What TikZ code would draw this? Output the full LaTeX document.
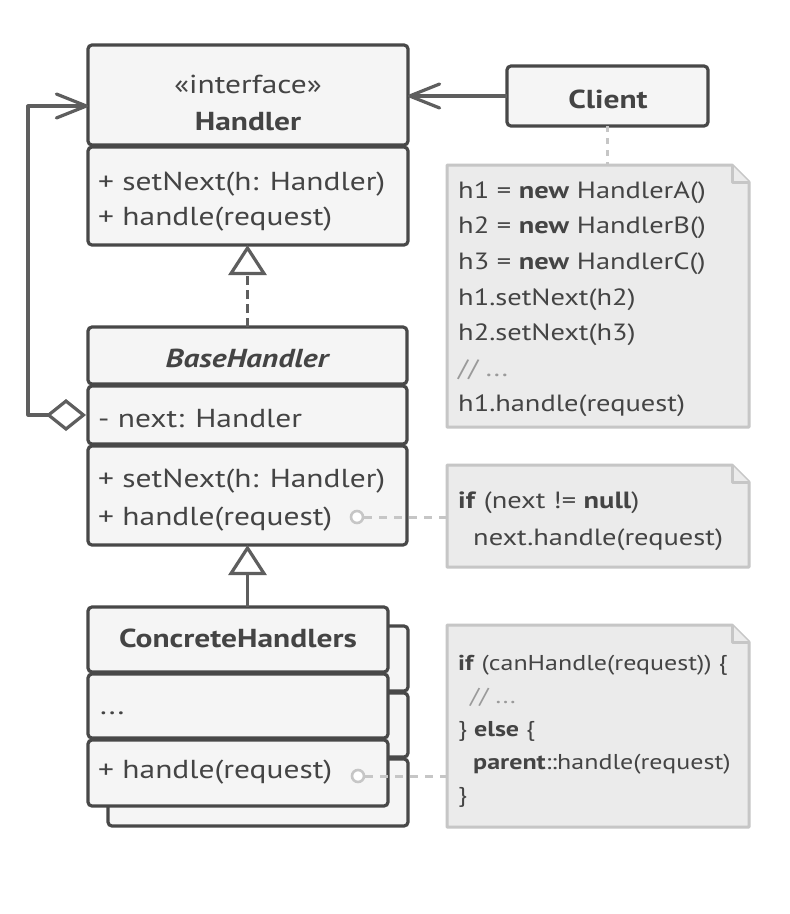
\documentclass[tikz,border=0pt]{standalone}
\usepackage{fontspec}
\setmainfont{PT Sans}[FakeStretch=1.21]
\usetikzlibrary{arrows.meta,calc}

\definecolor{ink}{HTML}{444444}
\definecolor{edge}{HTML}{484848}
\definecolor{conn}{HTML}{5E5E5E}
\definecolor{boxfill}{HTML}{F5F5F5}
\definecolor{notefill}{HTML}{EBEBEB}
\definecolor{noteedge}{HTML}{C6C6C6}
\definecolor{faint}{HTML}{9A9A9A}

\tikzset{
  comp/.style={draw=edge, fill=boxfill, line width=3.2pt, rounded corners=4pt,
    inner sep=0pt, outer sep=0pt, anchor=north west},
  member/.style={anchor=base west, inner sep=0pt, text=ink,
    font=\fontsize{26}{30}\selectfont},
  stereo/.style={anchor=base, inner sep=0pt, text=ink,
    font=\fontsize{26}{30}\selectfont},
  title/.style={anchor=base, inner sep=0pt, text=ink,
    font=\fontsize{26}{30}\selectfont\bfseries},
  code/.style={anchor=base west, inner sep=0pt, text=ink,
    font=\fontsize{23.5}{28}\selectfont},
  smallcode/.style={code, font=\fontsize{21.5}{26}\selectfont},
  notebox/.style={inner sep=0pt, outer sep=0pt, anchor=north west},
  notedraw/.style={draw=noteedge, fill=notefill, line width=3pt, line join=round},
  link/.style={draw=conn, line width=3.2pt},
  notelink/.style={draw=noteedge, line width=3pt, dash pattern=on 8pt off 7pt},
  pin/.style={circle, draw=noteedge, fill=white, line width=2.6pt,
    minimum size=12pt, inner sep=0pt},
  openhead/.tip={Straight Barb[length=30pt, width=24pt, line join=round, line cap=round]},
  hollowtri/.tip={Triangle[open, length=30pt, width=38pt]},
}

\begin{document}
\begin{tikzpicture}[x=1pt, y=-1pt]
\useasboundingbox[fill=white] (0,0) rectangle (790,914);

% ---------- notes (drawn first so connectors sit on top) ----------
\node[notebox, minimum width=302pt, minimum height=262pt] (n1) at (447,165) {};
\node[notebox, minimum width=302pt, minimum height=102pt] (n2) at (447,465) {};
\node[notebox, minimum width=302pt, minimum height=202pt] (n3) at (447,625) {};
\foreach \n in {n1,n2,n3}{
  \draw[notedraw] (\n.north west) -- ($(\n.north east)+(-17,0)$)
    -- ($(\n.north east)+(0,17)$) -- (\n.south east) -- (\n.south west) -- cycle;
  \draw[notedraw] ($(\n.north east)+(-17,0)$) -- ($(\n.north east)+(-17,17)$)
    -- ($(\n.north east)+(0,17)$);
}

% ---------- Handler interface ----------
\node[comp, minimum width=320pt, minimum height=100pt] (hHead) at (88,45) {};
\node[comp, minimum width=320pt, minimum height=98pt] (hOps) at (88,147) {};
\node[stereo] (hStereo) at (248,93) {«interface»};
\node[title] (hName) at (248,130) {Handler};
\node[member] (hOp1) at (98,190) {+ setNext(h: Handler)};
\node[member] (hOp2) at (98,225) {+ handle(request)};

% ---------- Client ----------
\node[comp, minimum width=201pt, minimum height=60pt] (client) at (507,66) {};
\node[title] (clientName) at (608,108) {Client};

% ---------- BaseHandler ----------
\node[comp, minimum width=319pt, minimum height=57pt] (bHead) at (88,327) {};
\node[comp, minimum width=319pt, minimum height=58pt] (bAttr) at (88,386) {};
\node[comp, minimum width=319pt, minimum height=99pt] (bOps) at (88,446) {};
\node[title, font=\fontsize{26}{30}\selectfont\bfseries\itshape] (bName) at (247,367) {BaseHandler};
\node[member] (bField) at (98,427) {- next: Handler};
\node[member] (bOp1) at (98,487) {+ setNext(h: Handler)};
\node[member] (bOp2) at (98,525) {+ handle(request)};

% ---------- ConcreteHandlers (stacked copies) ----------
\node[comp, minimum width=300pt, minimum height=65pt] (cBack1) at (108,626) {};
\node[comp, minimum width=300pt, minimum height=64pt] (cBack2) at (108,693) {};
\node[comp, minimum width=300pt, minimum height=67pt] (cBack3) at (108,759) {};
\node[comp, minimum width=300pt, minimum height=65pt] (cHead) at (88,607) {};
\node[comp, minimum width=300pt, minimum height=64pt] (cAttr) at (88,674) {};
\node[comp, minimum width=300pt, minimum height=66pt] (cOps) at (88,740) {};
\node[title] (cName) at (238,647) {ConcreteHandlers};
\node[member] (cField) at (100,714) {...};
\node[member] (cOp1) at (98,778) {+ handle(request)};

% ---------- relations ----------
\draw[link, -{openhead}] (client.west) -- (client.west -| hHead.east);
\draw[link, dash pattern=on 9pt off 5pt, -{hollowtri}] (bHead.north) -- (bHead.north |- hOps.south);
\draw[link, -{hollowtri}] (bOps.south |- cHead.north) -- (bOps.south);
\coordinate (loopTop) at ($(hHead.north west)+(-60,61)$);
\draw[link, line join=round, {Diamond[open, length=40pt, width=32pt]}-{openhead}]
  ($(bAttr.west)+(-2,0)$) -| (loopTop) -- (loopTop -| hHead.west);

% ---------- note links ----------
\draw[notelink, dash pattern=on 6pt off 6pt] (client.south) -- (client.south |- n1.north);
\node[pin] (p1) at (357,517) {};
\draw[notelink] (p1.east) -- (p1.east -| n2.west);
\node[pin] (p2) at (358,776) {};
\draw[notelink] (p2.east) -- (p2.east -| n3.west);

% ---------- note texts ----------
\node[code] (t11) at (458,198) {h1 = \textbf{new} HandlerA()};
\node[code] (t12) at (458,233.5) {h2 = \textbf{new} HandlerB()};
\node[code] (t13) at (458,269) {h3 = \textbf{new} HandlerC()};
\node[code] (t14) at (458,305) {h1.setNext(h2)};
\node[code] (t15) at (458,340) {h2.setNext(h3)};
\node[code, text=faint] (t16) at (458,376) {// ...};
\node[code] (t17) at (458,411.5) {h1.handle(request)};

\node[code] (t21) at (458,508) {\textbf{if} (next != \textbf{null})};
\node[code] (t22) at (473,545) {next.handle(request)};

\node[smallcode] (t31) at (458,670) {\textbf{if} (canHandle(request)) \{};
\node[smallcode, text=faint] (t32) at (470,703) {// ...};
\node[smallcode] (t33) at (458,736) {\} \textbf{else} \{};
\node[smallcode] (t34) at (473,769) {\textbf{parent}::handle(request)};
\node[smallcode] (t35) at (458,802) {\}};
\end{tikzpicture}
\end{document}
